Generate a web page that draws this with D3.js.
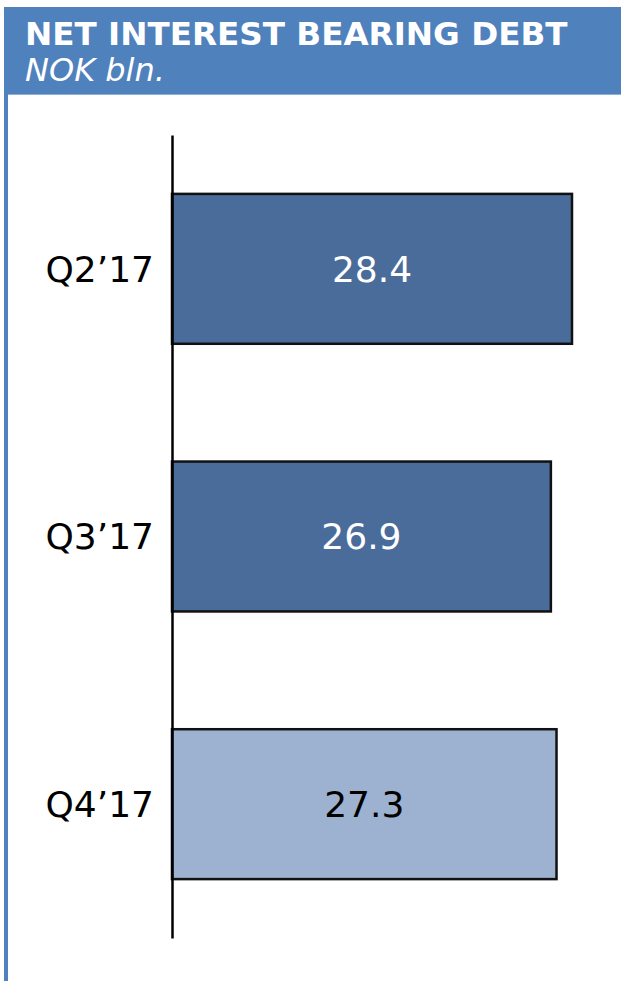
<!DOCTYPE html>
<html>
<head>
<meta charset="utf-8">
<script src="https://cdn.jsdelivr.net/npm/d3@7"></script>
<style>
  body { margin: 0; background: #fff; }
  svg { display: block; font-family: "DejaVu Sans", Verdana, sans-serif; }
</style>
</head>
<body>
<script>
const width = 621;
const height = 981;

const title = "NET INTEREST BEARING DEBT";
const subtitle = "NOK bln.";
const quarters = ["Q2\u201917", "Q3\u201917", "Q4\u201917"];
const debt = [28.4, 26.9, 27.3];
const barColors = ["#4a6c9b", "#4a6c9b", "#9db1d0"];
const labelColors = ["#ffffff", "#ffffff", "#000000"];

const svg = d3
  .select("body")
  .append("svg")
  .attr("width", width)
  .attr("height", height);

// frame: header band and left rule
svg.append("rect")
  .attr("x", 4).attr("y", 7)
  .attr("width", width - 4).attr("height", 87)
  .attr("fill", "#4f81bd");
svg.append("line")
  .attr("x1", 8).attr("x2", width)
  .attr("y1", 94.5).attr("y2", 94.5)
  .attr("stroke", "#8fb0d8").attr("stroke-width", 1);
svg.append("rect")
  .attr("x", 4).attr("y", 7)
  .attr("width", 4).attr("height", height - 7)
  .attr("fill", "#4f81bd");

svg.append("text")
  .attr("x", 25).attr("y", 45)
  .attr("fill", "#fff")
  .attr("font-size", 32.6)
  .attr("font-weight", "bold")
  .text(title);
svg.append("text")
  .attr("x", 25).attr("y", 81)
  .attr("fill", "#fff")
  .attr("font-size", 32)
  .attr("font-style", "italic")
  .text(subtitle);

const xScale = d3.scaleLinear().domain([0, 28.4]).range([172, 572]);
const yScale = d3
  .scaleBand()
  .domain(quarters)
  .range([135, 938])
  .paddingInner(0.44)
  .paddingOuter(0.22);

svg.selectAll("rect.bar")
  .data(debt)
  .enter()
  .append("rect")
  .attr("class", "bar")
  .attr("x", xScale(0))
  .attr("y", (d, i) => yScale(quarters[i]))
  .attr("width", (d) => xScale(d) - xScale(0))
  .attr("height", yScale.bandwidth())
  .attr("fill", (d, i) => barColors[i])
  .attr("stroke", "#111")
  .attr("stroke-width", 2.5);

svg.selectAll("text.value")
  .data(debt)
  .enter()
  .append("text")
  .attr("class", "value")
  .attr("x", (d) => (xScale(0) + xScale(d)) / 2)
  .attr("y", (d, i) => yScale(quarters[i]) + yScale.bandwidth() / 2)
  .attr("dy", "0.36em")
  .attr("text-anchor", "middle")
  .attr("font-size", 36)
  .attr("fill", (d, i) => labelColors[i])
  .text((d) => d.toFixed(1));

const yAxis = d3.axisLeft(yScale).tickSize(0).tickPadding(18);
const gy = svg.append("g")
  .attr("transform", `translate(${xScale(0)},0)`)
  .call(yAxis);
gy.select(".domain").attr("stroke", "#000").attr("stroke-width", 2.5);
gy.selectAll("text")
  .attr("font-size", 36)
  .attr("font-family", "DejaVu Sans, Verdana, sans-serif")
  .attr("fill", "#000")
  .attr("dy", "0.36em");
</script>
</body>
</html>
